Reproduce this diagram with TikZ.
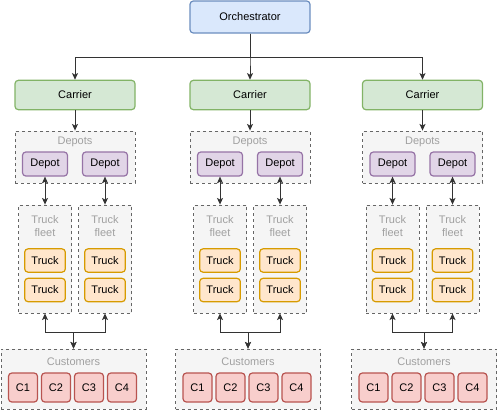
\documentclass[tikz,border=0pt]{standalone}
\usepackage{fontspec}
\setsansfont{Liberation Sans}
\usepackage{tikz}
\usetikzlibrary{positioning}
\usetikzlibrary{arrows.meta}
\usepackage{xcolor}
\definecolor{orchfill}{HTML}{DAE8FC}
\definecolor{orchline}{HTML}{6C8EBF}
\definecolor{carfill}{HTML}{D5E8D4}
\definecolor{carline}{HTML}{82B366}
\definecolor{depfill}{HTML}{E1D5E7}
\definecolor{depline}{HTML}{9673A6}
\definecolor{trkfill}{HTML}{FFE6CC}
\definecolor{trkline}{HTML}{D79B00}
\definecolor{cusfill}{HTML}{F8CECC}
\definecolor{cusline}{HTML}{B85450}
\definecolor{grpfill}{HTML}{F5F5F5}
\definecolor{grpline}{HTML}{666666}
\definecolor{grptext}{HTML}{A0A0A0}
\definecolor{wire}{HTML}{333333}

\begin{document}
\begin{tikzpicture}[x=0.75pt, y=-0.75pt,
  font=\sffamily\fontsize{8.25}{9.75}\selectfont,
  box/.style = {draw, rounded corners=2.5pt, line width=0.9pt, inner sep=0pt},
  orch/.style = {box, draw=orchline, fill=orchfill, minimum width=90pt, minimum height=24pt},
  carrier/.style = {box, draw=carline, fill=carfill, minimum width=90pt, minimum height=22pt},
  depot/.style = {box, draw=depline, fill=depfill, minimum width=33.75pt, minimum height=18pt},
  truck/.style = {box, draw=trkline, fill=trkfill, minimum width=30.5pt, minimum height=17.5pt},
  cust/.style = {box, draw=cusline, fill=cusfill, minimum width=21.75pt, minimum height=21.75pt},
  group/.style = {draw=grpline, fill=grpfill, line width=0.6pt, dash pattern=on 2.25pt off 2.25pt, inner sep=0pt},
  grplbl/.style = {text=grptext, inner sep=0pt, align=center},
  wire/.style = {draw=wire, line width=0.75pt},
  >={Stealth[length=5pt, width=4.5pt, inset=1.2pt]}]
\useasboundingbox (0,0) rectangle (498,412);

\node[orch] (orch) at (250,17) {Orchestrator};
\coordinate (hub) at (250,57);

\foreach \c/\u [count=\i] in {75/73.5, 250/248, 422.5/424} {
  \node[carrier] (car\i) at (\c,95) {Carrier};
  % depots
  \node[group, minimum width=90pt, minimum height=39pt] (dp\i) at (\c,157) {};
  \node[grplbl, below=4.5pt] (dpl\i) at (dp\i.north) {Depots};
  \node[depot] (da\i) at (\c-30,164) {Depot};
  \node[depot] (db\i) at (\c+30,164) {Depot};
  % truck fleets
  \node[group, minimum width=39.75pt, minimum height=81pt] (fa\i) at (\c-30,259) {};
  \node[group, minimum width=39.75pt, minimum height=81pt] (fb\i) at (\c+30,259) {};
  \node[grplbl, below=8.25pt] (fal\i) at (fa\i.north) {Truck\\fleet};
  \node[grplbl, below=8.25pt] (fbl\i) at (fb\i.north) {Truck\\fleet};
  \node[truck] (ta\i) at (\c-30,260.5) {Truck};
  \node[truck] (tb\i) at (\c-30,290) {Truck};
  \node[truck] (tc\i) at (\c+30,260.5) {Truck};
  \node[truck] (td\i) at (\c+30,290) {Truck};
  % customers
  \node[group, minimum width=108.75pt, minimum height=45pt] (cu\i) at (\u,379) {};
  \node[grplbl, below=6.5pt] (cul\i) at (cu\i.north) {Customers};
  \node[cust] (ca\i) at (\u-50.5,387.5) {C1};
  \node[cust] (cb\i) at (\u-17.5,387.5) {C2};
  \node[cust] (cc\i) at (\u+15.5,387.5) {C3};
  \node[cust] (cd\i) at (\u+48.5,387.5) {C4};
  \coordinate (jn\i) at (\u,332);
  % links
  \draw[wire, ->] (orch.south) |- (hub) -| (car\i.north);
  \path (car\i.south) edge [wire, ->] (dp\i.north);
  \path (da\i.south) edge [wire, <->] (fa\i.north);
  \path (db\i.south) edge [wire, <->] (fb\i.north);
  \draw[wire, <->] (fa\i.south) |- (jn\i) -| (cu\i.north);
  \draw[wire, <->] (fb\i.south) |- (jn\i) -| (cu\i.north);
}
\end{tikzpicture}
\end{document}
